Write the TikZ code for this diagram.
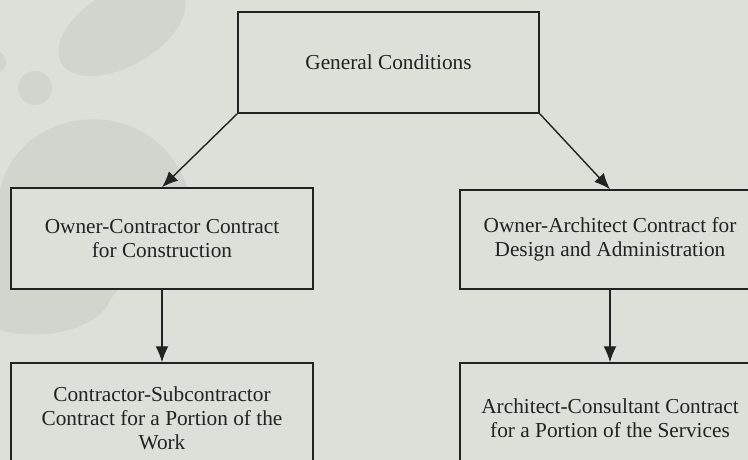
\documentclass[tikz,border=0pt]{standalone}
\usepackage{fontspec}
\setmainfont{Liberation Serif}
\usetikzlibrary{arrows.meta}

\definecolor{paper}{RGB}{221,224,216}
\definecolor{leaf}{RGB}{210,213,206}
\definecolor{ink}{RGB}{34,34,34}

\begin{document}
\begin{tikzpicture}[x = 1pt, y = -1pt, > = {Latex[length = 16pt, width = 13pt]},
	box/.style = {draw = ink, line width = 1.5pt, fill = paper, minimum width = 302pt,
		align = center, text = ink, font = \fontsize{21.3}{24}\selectfont}]

	% Page
	
	\useasboundingbox (0, 0) rectangle (748, 460);
	\clip (0, 0) rectangle (748, 460);
	\fill [paper] (0, 0) rectangle (748, 460);
	
	% Leaves
	
	\begin{scope}[leaf]
	
		\fill [rotate around = {30:(122, 28)}] (122, 28) ellipse (70 and 38);
		\fill (35, 88) circle (17);
		\fill (-6, 62) circle (12);
		\fill (0, 190) .. controls (20, 100) and (160, 90) .. (190, 195)
			-- (110, 300) .. controls (95, 335) and (30, 340) .. (0, 330) -- cycle;
	
	\end{scope}
	
	% Contracts
	
	\node [box, minimum width = 301pt, minimum height = 101pt] (general) at (388.5, 62.5) {General Conditions};
	
	\node [box, minimum height = 101pt] (ownercon) at (162, 238.5) {Owner-Contractor Contract\\for Construction};
	\node [box, minimum width = 300pt, minimum height = 99pt] (ownerarch) at (610, 239.5) {Owner-Architect Contract for\\Design and Administration};
	
	\node [box, minimum height = 110pt] (subcon) at (162, 418) {Contractor-Subcontractor\\Contract for a Portion of the\\Work};
	\node [box, minimum width = 300pt, minimum height = 110pt] (consult) at (610, 418) {Architect-Consultant Contract\\for a Portion of the Services};
	
	% Links
	
	\begin{scope}[ink, line width = 1.4pt]
	
		\draw [->] (general.south west) -- (ownercon.north);
		\draw [->] (general.south east) -- (ownerarch.north);
		\draw [->] (ownercon) -- (subcon);
		\draw [->] (ownerarch) -- (consult);
	
	\end{scope}

\end{tikzpicture}
\end{document}
